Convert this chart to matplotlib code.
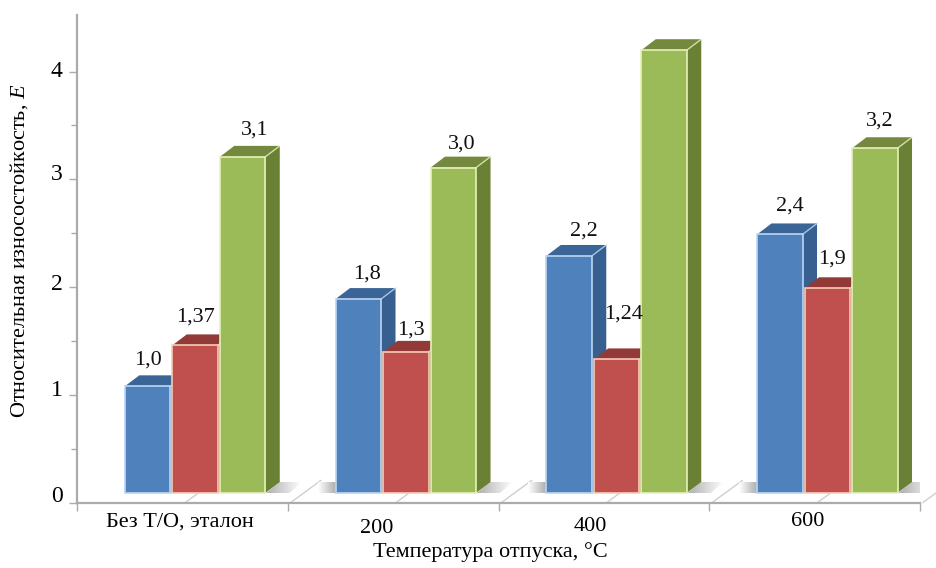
import numpy as np
import matplotlib
matplotlib.use("Agg")
import matplotlib.pyplot as plt
from matplotlib.patches import Polygon
from matplotlib.transforms import ScaledTranslation

categories = ["Без Т/О, эталон", "200", "400", "600"]
blue_values = [0.99, 1.80, 2.20, 2.40]
red_values = [1.37, 1.31, 1.24, 1.90]
green_values = [3.12, 3.02, 4.11, 3.20]
blue_labels = ["1,0", "1,8", "2,2", "2,4"]
red_labels = ["1,37", "1,3", "1,24", "1,9"]
green_labels = ["3,1", "3,0", "", "3,2"]
y_ticks = [0, 1, 2, 3, 4]

plt.rcParams["font.family"] = ["Liberation Serif", "DejaVu Serif"]
plt.rcParams["mathtext.fontset"] = "custom"
plt.rcParams["mathtext.it"] = "Liberation Serif:italic"
plt.rcParams["mathtext.rm"] = "Liberation Serif"

W, H, DPI = 936, 568, 100
L, R, T, B = 77, 920, 15, 502.5
fig = plt.figure(figsize=(W / DPI, H / DPI), dpi=DPI, facecolor="white")
ax = fig.add_axes([L / W, 1 - B / H, (R - L) / W, (B - T) / H])
XMIN, XMAX, YMAX = -0.5, 3.5, 4.525
ax.set_xlim(XMIN, XMAX)
ax.set_ylim(0, YMAX)
px = (XMAX - XMIN) / (R - L)
py = YMAX / (B - T)

GREY = "#ABABAB"
for s in ("top", "right"):
    ax.spines[s].set_visible(False)
for s in ("left", "bottom"):
    ax.spines[s].set_color(GREY)
    ax.spines[s].set_linewidth(1.6)

# Floor guide lines
edges = np.arange(0, 5) - 0.5
for x in list(edges[1:]) + list(range(4)):
    ax.plot([x + 3 * px, x + 33 * px], [0, 22 * py], color="#CFCFCF", lw=1.0,
            zorder=1, clip_on=False)

base = 9.5 * py
shift = 0.06
step = 47.5 * px
width = 45.5 * px
dx, dy = 14.5 * px, 11 * py


def shadow(x0, x1, slant, reverse=False):
    poly = Polygon([(x0, base), (x0 + slant, base + dy), (x1 + slant, base + dy), (x1, base)],
                   closed=True, transform=ax.transData, fc="none", ec="none")
    ax.add_patch(poly)
    grad = np.linspace(0.68, 1.0, 64)[None, :]
    if reverse:
        grad = grad[:, ::-1]
    im = ax.imshow(grad, cmap="gray", vmin=0, vmax=1, aspect="auto",
                   extent=[x0, x1 + slant, base, base + dy], zorder=1.5)
    im.set_clip_path(poly)


series = [
    (blue_values, blue_labels, "#4F81BD", "#BBD6F2", "#375F8F", "#3A6596"),
    (red_values, red_labels, "#C0504D", "#F6CDB6", "#8B3533", "#923A38"),
    (green_values, green_labels, "#9BBB59", "#E4F2B8", "#6A8035", "#75893E"),
]
label_offsets = [
    [(0, 26), (9, 25), (15, 25), (10, 28)],
    [(0, 28), (5, 22), (7, 45), (5, 29)],
    [(12, 27), (8, 24), (0, 0), (5, 27)],
]

for k in range(4):
    right_edge = k + shift + step + width / 2
    left_edge = k + shift - step - width / 2
    shadow(right_edge + 1 * px, right_edge + 24 * px, 13 * px)
    if k > 0:
        shadow(left_edge - 18 * px, left_edge, 0, reverse=True)

for i, (vals, labs, face, edge, side, top) in enumerate(series):
    for k, v in enumerate(vals):
        c = k + shift + (i - 1) * step
        x0, x1 = c - width / 2, c + width / 2
        ytop = base + v
        z = 2 + i * 0.1
        ax.add_patch(Polygon([(x1, base), (x1 + dx, base + dy), (x1 + dx, ytop + dy), (x1, ytop)],
                             closed=True, fc=side, ec="none", zorder=z))
        ax.add_patch(Polygon([(x0, ytop), (x0 + dx, ytop + dy), (x1 + dx, ytop + dy), (x1, ytop)],
                             closed=True, fc=top, ec="none", zorder=z))
        ax.bar(c, v, width=width, bottom=base, color=face, edgecolor=edge, linewidth=1.2, zorder=z + 0.01)
        ax.plot([x1, x1 + dx], [ytop, ytop + dy], color=edge, lw=1.0, zorder=z + 0.02, alpha=0.8)
        if labs[k]:
            off = label_offsets[i][k]
            ax.annotate(labs[k], xy=(c, ytop), xytext=off, textcoords="offset pixels",
                        ha="center", va="center", fontsize=16, color="#111111", zorder=5)

# Axes ticks
ax.set_yticks(y_ticks)
ax.set_yticks(np.arange(0.5, 4.5, 1), minor=True)
ax.tick_params(axis="y", which="major", length=5.5, width=1, color=GREY, labelsize=17, pad=5)
ax.tick_params(axis="y", which="minor", length=4, width=1, color=GREY)
ax.set_xticks(edges)
ax.set_xticklabels([])
ax.set_xticks(range(4), minor=True)
ax.set_xticklabels(categories, minor=True)
ax.tick_params(axis="x", which="major", length=6, width=1, color=GREY)
ax.tick_params(axis="x", which="minor", length=0, labelsize=16, pad=7)

inch = 1 / DPI
for lab, (ox, oy) in zip(ax.get_xticklabels(minor=True), [(-2, 0), (-16, -7), (-14, -5), (-7, 0)]):
    lab.set_transform(lab.get_transform() + ScaledTranslation(ox * inch, oy * inch, fig.dpi_scale_trans))
for lab, oy in zip(ax.get_yticklabels(), [9, 7, 5, 7, 3]):
    lab.set_transform(lab.get_transform() + ScaledTranslation(0, oy * inch, fig.dpi_scale_trans))

ax.set_xlabel("Температура отпуска, °С", fontsize=16, va="center")
ax.xaxis.set_label_coords((490 - L) / (R - L), -(552.5 - B) / (B - T))
ax.set_ylabel("Относительная износостойкость, $\\mathit{E}$", fontsize=16, va="center")
ax.yaxis.set_label_coords((19 - L) / (R - L), (B - 251) / (B - T))

ax.set_xlim(XMIN, XMAX)
ax.set_ylim(0, YMAX)
fig.savefig("out.png", dpi=DPI, facecolor="white")
